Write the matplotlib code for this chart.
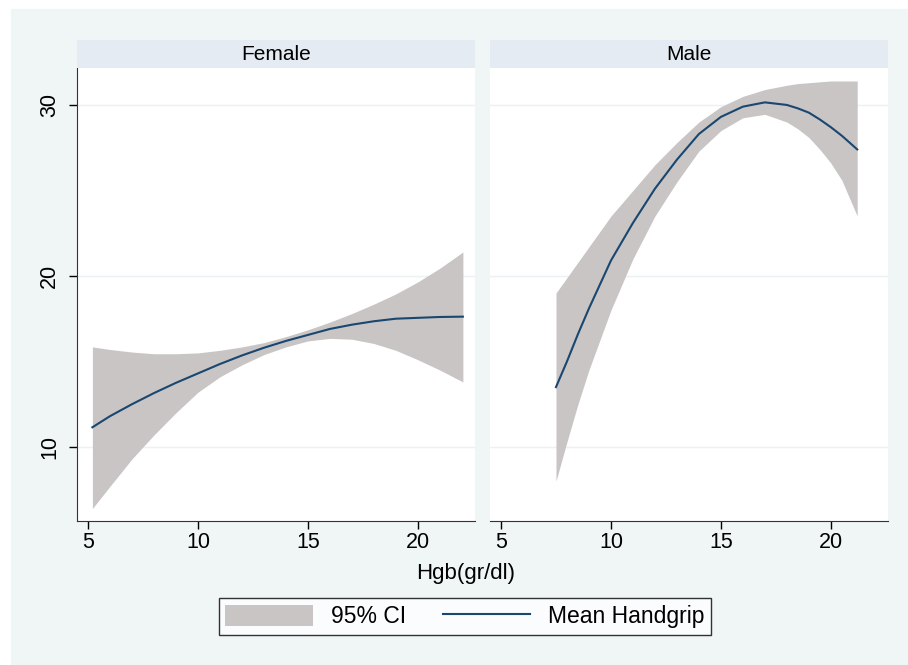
import matplotlib.pyplot as plt
import numpy as np
from matplotlib.patches import Patch
from matplotlib.lines import Line2D

# Female panel: fitted mean handgrip and 95% CI by Hgb
f_hgb = [5.2, 6, 7, 8, 9, 10, 11, 12, 13, 14, 15, 16, 17, 18, 19, 20, 21, 22.05]
f_mean = [11.15, 11.8, 12.5, 13.15, 13.75, 14.3, 14.85, 15.35, 15.8, 16.2, 16.55, 16.9, 17.15, 17.35, 17.5, 17.55, 17.6, 17.62]
f_upper = [15.85, 15.7, 15.55, 15.45, 15.45, 15.5, 15.65, 15.85, 16.1, 16.45, 16.85, 17.3, 17.8, 18.35, 18.95, 19.65, 20.45, 21.4]
f_lower = [6.4, 7.7, 9.3, 10.7, 12.0, 13.2, 14.1, 14.8, 15.4, 15.85, 16.2, 16.35, 16.3, 16.05, 15.65, 15.1, 14.5, 13.8]

# Male panel
m_hgb = [7.5, 8, 8.5, 9, 10, 11, 12, 13, 14, 15, 16, 17, 18, 18.5, 19, 19.5, 20, 20.5, 21.2]
m_mean = [13.5, 15.0, 16.6, 18.1, 20.9, 23.1, 25.1, 26.8, 28.3, 29.3, 29.9, 30.15, 30.0, 29.8, 29.55, 29.15, 28.7, 28.2, 27.4]
m_upper = [19.0, 19.9, 20.8, 21.7, 23.5, 25.0, 26.5, 27.8, 29.0, 29.9, 30.5, 30.9, 31.15, 31.25, 31.3, 31.35, 31.4, 31.4, 31.4]
m_lower = [8.0, 10.3, 12.5, 14.5, 18.0, 21.0, 23.5, 25.5, 27.3, 28.5, 29.25, 29.45, 29.0, 28.6, 28.1, 27.4, 26.6, 25.6, 23.5]

panels = ["Female", "Male"]
xticks = [5, 10, 15, 20]
yticks = [10, 20, 30]

bg = "#F0F5F6"
strip_col = "#E4EBF2"
band_col = "#C9C5C5"
line_col = "#1A476F"
grid_col = "#EAF2F3"

plt.rcParams['font.family'] = ['Liberation Sans', 'DejaVu Sans']

fig = plt.figure(figsize=(9.08, 6.65), dpi=100)
fig.patch.set_facecolor("white")
# outer light background like Stata s2color
fig.patches.append(plt.Rectangle((11/908, 0), 1 - 11/908, 1 - 9/665,
                                 transform=fig.transFigure, color=bg, zorder=-10))

data = [(f_hgb, f_mean, f_upper, f_lower), (m_hgb, m_mean, m_upper, m_lower)]
lefts = [77/908, 490/908]
width = 398/908
bottom = 1 - 521/665
height = 453/665

for i, (name, (x, mn, up, lo)) in enumerate(zip(panels, data)):
    ax = fig.add_axes([lefts[i], bottom, width, height])
    ax.set_facecolor("white")
    ax.fill_between(x, lo, up, color=band_col, linewidth=0, zorder=2)
    ax.plot(x, mn, color=line_col, lw=1.5, zorder=3)
    ax.set_xlim(4.5, 22.6)
    ax.set_ylim(5.67, 32.16)
    for yt in yticks:
        ax.axhline(yt, color=grid_col, lw=1, zorder=1)
    ax.set_xticks(xticks)
    ax.set_yticks(yticks)
    ax.tick_params(axis='x', length=6, width=1, labelsize=15.5, pad=2)
    for s in ['top', 'right']:
        ax.spines[s].set_visible(False)
    ax.spines['bottom'].set_color("#333333")
    if i == 0:
        ax.spines['left'].set_color("#333333")
        ax.tick_params(axis='y', length=6, width=1, labelsize=15.5, pad=6)
        for lab in ax.get_yticklabels():
            lab.set_rotation(90)
            lab.set_va('center')
    else:
        ax.spines['left'].set_visible(False)
        ax.tick_params(axis='y', length=0, labelleft=False)

    # strip header
    sax = fig.add_axes([lefts[i], 1 - 68/665, width, 28/665])
    sax.set_facecolor(strip_col)
    sax.set_xticks([])
    sax.set_yticks([])
    for s in sax.spines.values():
        s.set_visible(False)
    sax.text(0.5, 0.5, name, ha='center', va='center', fontsize=15,
             transform=sax.transAxes)

fig.text(466/908, 1 - 574/665, "Hgb(gr/dl)", ha='center', va='center', fontsize=16)

handles = [Patch(facecolor=band_col, edgecolor='none'),
           Line2D([0], [0], color=line_col, lw=1.5)]
leg = fig.legend(handles, ["95% CI", "Mean Handgrip"], ncol=2,
                 loc='center', bbox_to_anchor=(465/908, 1 - 616.5/665),
                 fontsize=16.5, frameon=True, fancybox=False,
                 handlelength=3.8, handleheight=1.05, handletextpad=0.8,
                 columnspacing=1.6, borderpad=0.3, borderaxespad=0)
leg.get_frame().set_edgecolor("black")
leg.get_frame().set_linewidth(1)
leg.get_frame().set_facecolor("white")

plt.savefig('out.png', dpi=100, facecolor=fig.get_facecolor())
